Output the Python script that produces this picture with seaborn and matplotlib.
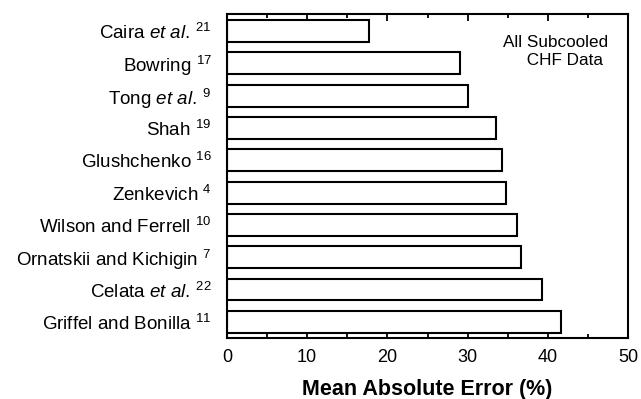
import matplotlib
matplotlib.use("Agg")
import matplotlib.pyplot as plt
import pandas as pd
import seaborn as sns
from matplotlib.ticker import MultipleLocator

# Correlations and their reference numbers
names = ["Caira $\\mathit{et\\ al.}$", "Bowring", "Tong $\\mathit{et\\ al.}$", "Shah",
         "Glushchenko", "Zenkevich", "Wilson and Ferrell", "Ornatskii and Kichigin",
         "Celata $\\mathit{et\\ al.}$", "Griffel and Bonilla"]
refs = ["21", "17", "9", "19", "16", "4", "10", "7", "22", "11"]
mae = [17.7, 29.1, 30.0, 33.5, 34.3, 34.8, 36.2, 36.7, 39.2, 41.6]


def make_label(n, r):
    # superscript reference number; keep it in the same math block for italic names
    if n.endswith("$"):
        return n[:-1] + "\\,^{" + r + "}$"
    return n + " $^{" + r + "}$"


labels = [make_label(n, r) for n, r in zip(names, refs)]
df = pd.DataFrame({"label": labels, "mae": mae})

sns.set_style("ticks")
plt.rcParams['font.family'] = ['Liberation Sans', 'DejaVu Sans']
plt.rcParams['mathtext.fontset'] = 'custom'
plt.rcParams['mathtext.rm'] = 'Liberation Sans'
plt.rcParams['mathtext.it'] = 'Liberation Sans:italic'
plt.rcParams['mathtext.bf'] = 'Liberation Sans:bold'
plt.rcParams['text.color'] = 'black'
plt.rcParams['axes.labelcolor'] = 'black'
plt.rcParams['xtick.color'] = 'black'
plt.rcParams['ytick.color'] = 'black'

fig = plt.figure(figsize=(6.41, 3.99), dpi=100)
ax = fig.add_axes([0.354, 0.153, 0.626, 0.812])

sns.barplot(data=df, x="mae", y="label", orient="h", color="white",
            edgecolor="black", linewidth=1.5, width=0.68, ax=ax)

ax.set_xlim(0, 50)
ax.set_ylim(9.5, -0.53)
ax.xaxis.set_major_locator(MultipleLocator(10))
ax.xaxis.set_minor_locator(MultipleLocator(5))
ax.tick_params(axis="x", which="both", direction="in", top=True, bottom=True,
               width=1.3, labelsize=13, pad=8)
ax.tick_params(axis="x", which="major", length=5)
ax.tick_params(axis="x", which="minor", length=3)
ax.tick_params(axis="y", length=0, labelsize=13.5, pad=11)
for s in ax.spines.values():
    s.set_linewidth(1.5)
    s.set_edgecolor("black")
    s.set_visible(True)

ax.set_ylabel("")
ax.set_xlabel("Mean Absolute Error (%)", fontsize=15.5, fontweight="bold", labelpad=9)

ax.text(0.688, 0.935, "All Subcooled\n     CHF Data", transform=ax.transAxes,
        ha="left", va="top", fontsize=12.3, linespacing=1.25)

fig.savefig("out.png", dpi=100)
